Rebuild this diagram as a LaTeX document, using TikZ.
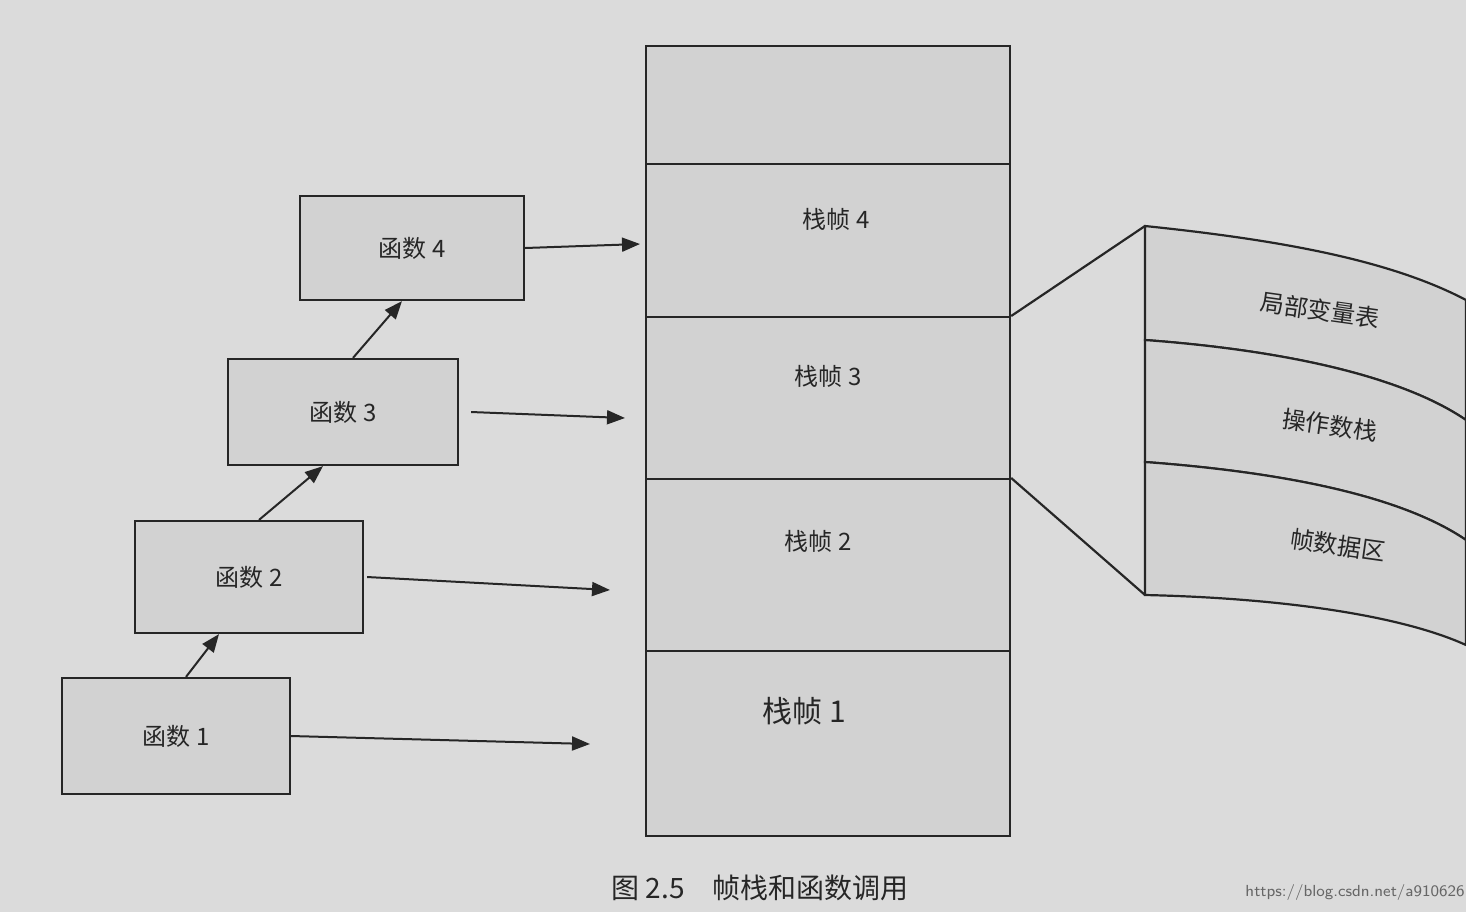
\documentclass[tikz,border=0pt]{standalone}
\usepackage{fontspec}
\newfontfamily\cjk{Noto Sans CJK SC}
\usetikzlibrary{arrows.meta}
\begin{document}
\begin{tikzpicture}[x=0.5pt,y=-0.5pt,
  box/.style={draw=black!85,line width=1.1pt,fill=gray!35},
  lab/.style={font=\cjk\fontsize{12}{14}\selectfont,text=black!85},
  arr/.style={line width=1pt,draw=black!85,-{Triangle[length=9pt,width=7pt]}}]
\clip (0,0) rectangle (1466,912);
\fill[black!14] (0,0) rectangle (1466,912);
% functions
\node[box,minimum width=114pt,minimum height=58pt] (f1) at (176,736) {};
\node[box,minimum width=114pt,minimum height=56pt] (f2) at (249,577) {};
\node[box,minimum width=115pt,minimum height=53pt] (f3) at (343,412) {};
\node[box,minimum width=112pt,minimum height=52pt] (f4) at (412,248) {};
\node[lab] at (f1) {函数 1};
\node[lab] at (f2) {函数 2};
\node[lab] at (f3) {函数 3};
\node[lab] at (f4) {函数 4};
\draw[arr] (f1.north) ++(10,0) -- ([xshift=-15pt]f2.south);
\draw[arr] (f2.north) ++(10,0) -- ([xshift=-10pt]f3.south);
\draw[arr] (f3.north) ++(10,0) -- ([xshift=-5pt]f4.south);
% stack
\node[box,minimum width=182pt,minimum height=59pt,anchor=north west] (s5) at (645,45) {};
\node[box,minimum width=182pt,minimum height=76.5pt,anchor=north west] (s4) at (645,163) {};
\node[box,minimum width=182pt,minimum height=81pt,anchor=north west] (s3) at (645,316) {};
\node[box,minimum width=182pt,minimum height=86pt,anchor=north west] (s2) at (645,478) {};
\node[box,minimum width=182pt,minimum height=92.5pt,anchor=north west] (s1) at (645,650) {};
\node[lab] at ([yshift=10.5pt,xshift=4pt]s4.center) {栈帧 4};
\node[lab] at ([yshift=11pt]s3.center) {栈帧 3};
\node[lab] at ([yshift=12pt,xshift=-5pt]s2.center) {栈帧 2};
\node[lab,font=\cjk\fontsize{15}{17}\selectfont] at ([yshift=16pt,xshift=-12pt]s1.center) {栈帧 1};
\coordinate (e1) at (590,744);
\coordinate (e2) at (610,590);
\coordinate (e3) at (625,418);
\coordinate (e4) at (640,244);
\draw[arr] (f1.east) -- (e1);
\draw[arr] (f2.east) ++(3,0) -- (e2);
\draw[arr] (f3.east) ++(12,0) -- (e3);
\draw[arr] (f4.east) -- (e4);
% detail panel
\coordinate (pa) at (1145,226);
\coordinate (pb) at (1145,340);
\coordinate (pc) at (1145,462);
\coordinate (pd) at (1145,595);
\draw[box] (pa) .. controls (1280,240) and (1390,260) .. (1466,300) -- (1466,420)
  .. controls (1400,375) and (1280,350) .. (pb) -- cycle;
\draw[box] (pb) .. controls (1280,350) and (1400,375) .. (1466,420) -- (1466,540)
  .. controls (1400,495) and (1280,472) .. (pc) -- cycle;
\draw[box] (pc) .. controls (1280,472) and (1400,495) .. (1466,540) -- (1466,645)
  .. controls (1400,615) and (1280,598) .. (pd) -- cycle;
\node[lab,rotate=-8] at (1320,310) {局部变量表};
\node[lab,rotate=-8] at (1330,425) {操作数栈};
\node[lab,rotate=-8] at (1338,545) {帧数据区};
\draw[line width=1.1pt,black!85] (s3.north east) -- (pa);
\draw[line width=1.1pt,black!85] (s2.north east) -- (pd);
% caption
\node[font=\cjk\fontsize{14}{16}\selectfont,text=black!85] at (760,888) {图 2.5\quad 帧栈和函数调用};
\node[font=\sffamily\fontsize{8}{9}\selectfont,text=black!60] at (1355,892) {https://blog.csdn.net/a910626};
\end{tikzpicture}
\end{document}
